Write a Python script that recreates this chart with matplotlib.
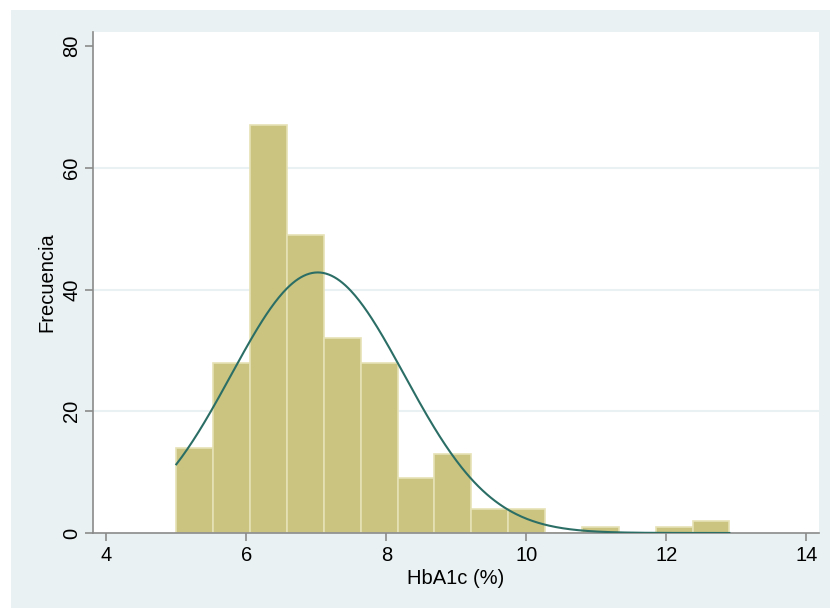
import numpy as np
import matplotlib
matplotlib.use("Agg")
import matplotlib.pyplot as plt
from matplotlib.patches import Rectangle

plt.rcParams['font.family'] = ['Liberation Sans', 'DejaVu Sans']

# Histogram data (15 bins from 5.0 to 12.9)
bin_start = 5.0
bin_end = 12.9
counts = [14, 28, 67, 49, 32, 28, 9, 13, 4, 4, 0, 1, 0, 1, 2]
# Fitted normal overlay parameters
fit_mean = 7.02
fit_sd = 1.237

x_ticks = [4, 6, 8, 10, 12, 14]
y_ticks = [0, 20, 40, 60, 80]

W, H = 830, 608
fig = plt.figure(figsize=(W / 100, H / 100), dpi=100)
fig.patch.set_facecolor('white')
bg = Rectangle((11 / W, 0), 1 - 11 / W, 1 - 10 / H,
               transform=fig.transFigure, facecolor='#eaf1f3',
               edgecolor='none', zorder=-10)
fig.add_artist(bg)

ax = fig.add_axes([93 / W, 1 - 533 / H, (819 - 93) / W, (533 - 32) / H])
ax.set_zorder(1)
ax.set_facecolor('white')

nb = len(counts)
width = (bin_end - bin_start) / nb
edges = bin_start + width * np.arange(nb)
ax.bar(edges, counts, width=width, align='edge', color='#cbc480',
       edgecolor='#e6e2b6', linewidth=1.2, zorder=2)

xs = np.linspace(bin_start, bin_end, 400)
ys = sum(counts) * width * np.exp(-0.5 * ((xs - fit_mean) / fit_sd) ** 2) / (fit_sd * np.sqrt(2 * np.pi))
ax.plot(xs, ys, color='#2b6e66', linewidth=1.5, zorder=3)

ax.set_xlim(3.81, 14.18)
ax.set_ylim(0, 80 * (533 - 32) / (533 - 46))
ax.set_xticks(x_ticks)
ax.set_yticks(y_ticks)
for v in y_ticks[1:-1]:
    ax.axhline(v, color='#eaf1f3', linewidth=1.5, zorder=1)

for s in ['top', 'right']:
    ax.spines[s].set_visible(False)
for s in ['left', 'bottom']:
    ax.spines[s].set_color('#8a8a8a')
    ax.spines[s].set_linewidth(1.2)
ax.tick_params(axis='both', colors='#8a8a8a', length=6, width=1.2,
               labelcolor='black', labelsize=14.5)
ax.tick_params(axis='y', labelrotation=90, pad=2.5)
for lab in ax.get_yticklabels():
    lab.set_va('center')

ax.set_xlabel('HbA1c (%)', fontsize=14.5, labelpad=3)
ax.set_ylabel('Frecuencia', fontsize=14.5, labelpad=4)

fig.savefig('out.png', dpi=100, facecolor=fig.get_facecolor())
